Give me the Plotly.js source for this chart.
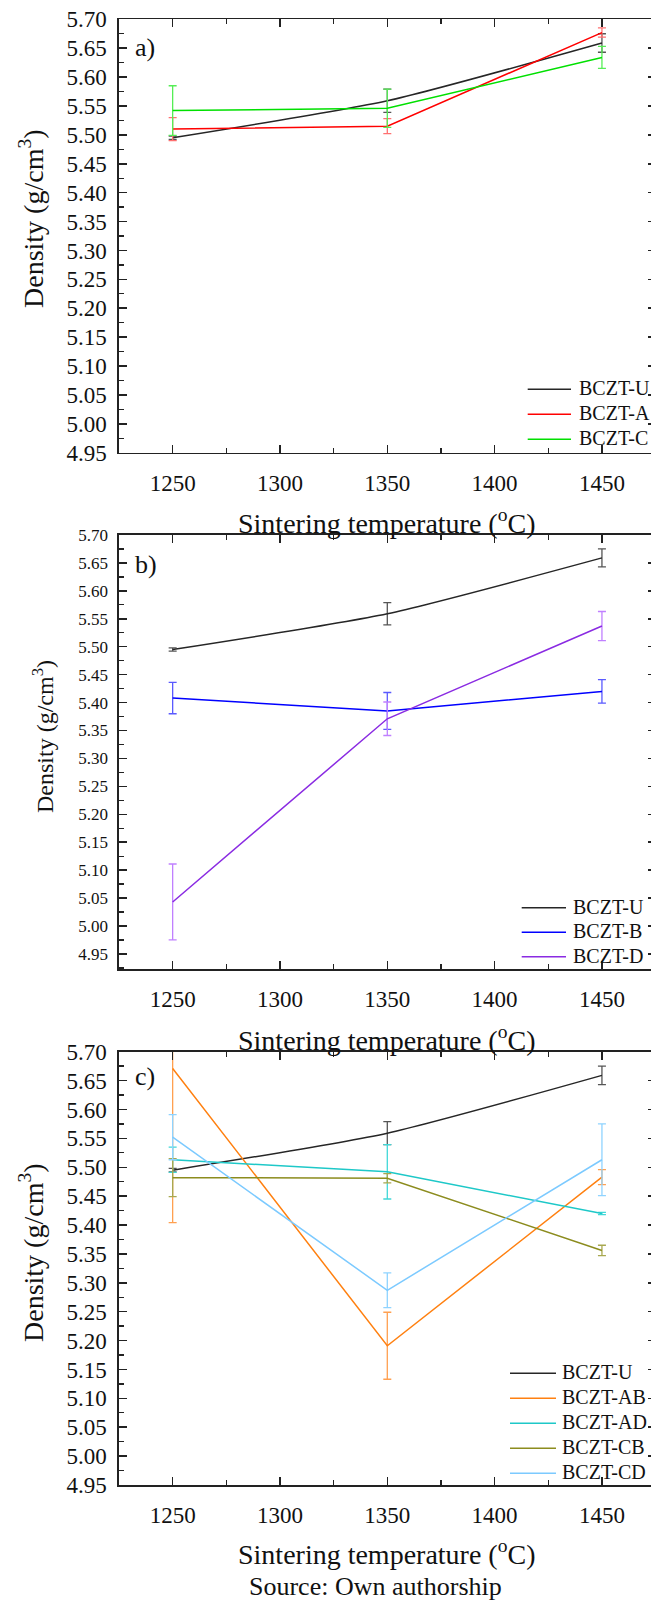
<!DOCTYPE html>
<html>
<head>
<meta charset="utf-8">
<script src="https://cdn.plot.ly/plotly-3.0.1.min.js"></script>
<style>
html, body { margin: 0; padding: 0; overflow: hidden; background: #fff; }
#chart { width: 660px; height: 1603px; }
</style>
</head>
<body>
<div id="chart"></div>
<script>
// ---- data ----
const temps = [1250, 1350, 1450];
const xTicks = [1250, 1300, 1350, 1400, 1450];

const U = [5.495, 5.559, 5.659];
const U_err = [0.003, 0.020, 0.016];
const A = [5.510, 5.515, 5.677];
const A_err = [0.020, 0.013, 0.008];
const C = [5.542, 5.546, 5.634];
const C_err = [0.043, 0.033, 0.019];
const B = [5.408, 5.385, 5.420];
const B_err = [0.028, 0.033, 0.021];
const D = [5.043, 5.371, 5.537];
const D_err = [0.068, 0.030, 0.026];
const AB = [5.671, 5.191, 5.483];
const AB_err = [0.267, 0.058, 0.013];
const AD = [5.513, 5.492, 5.420];
const AD_err = [0.022, 0.047, 0.002];
const CB = [5.482, 5.481, 5.356];
const CB_err = [0.033, 0.008, 0.009];
const CD = [5.552, 5.287, 5.513];
const CD_err = [0.039, 0.030, 0.062];

const panelLabels = ['a)', 'b)', 'c)'];
const xTitle = 'Sintering temperature (<sup>o</sup>C)';
const yTitle = 'Density (g/cm<sup>3</sup>)';
const sourceText = 'Source: Own authorship';

// ---- layout helpers ----
const W = 660, H = 1603;
const FONT = '"Liberation Serif", "Times New Roman", serif';
const px = v => v / W;
const py = v => 1 - v / H;
const dom = (top, bottom) => [1 - bottom / H, 1 - top / H];

function tr(name, y, err, color, errColor, xa, ya, smooth) {
  return {
    x: temps, y: y, name: name, type: 'scatter', mode: 'lines',
    xaxis: xa, yaxis: ya, showlegend: false,
    line: {color: color, width: 1.5, shape: smooth ? 'spline' : 'linear', smoothing: 0.6},
    error_y: {type: 'data', array: err, visible: true, color: errColor, thickness: 1.3, width: 4},
    hoverinfo: 'skip'
  };
}

const data = [
  tr('BCZT-U', U, U_err, '#262626', '#555555', 'x', 'y', true),
  tr('BCZT-A', A, A_err, '#ff0000', '#ff7070', 'x', 'y'),
  tr('BCZT-C', C, C_err, '#00e000', '#55ee55', 'x', 'y'),

  tr('BCZT-U', U, U_err, '#262626', '#555555', 'x2', 'y2', true),
  tr('BCZT-B', B, B_err, '#0000ff', '#5a5aff', 'x2', 'y2'),
  tr('BCZT-D', D, D_err, '#8a2be2', '#c080ff', 'x2', 'y2'),

  tr('BCZT-U', U, U_err, '#262626', '#555555', 'x3', 'y3', true),
  tr('BCZT-AB', AB, AB_err, '#ff8010', '#ffa050', 'x3', 'y3'),
  tr('BCZT-AD', AD, AD_err, '#1ec8c8', '#40d8d8', 'x3', 'y3'),
  tr('BCZT-CB', CB, CB_err, '#8c8c1e', '#a8a850', 'x3', 'y3'),
  tr('BCZT-CD', CD, CD_err, '#7ccaff', '#8fd3ff', 'x3', 'y3')
];

const xDom = [px(119), px(655.6)];
function xax(anchor, tickSize) {
  return {
    domain: xDom, anchor: anchor, range: [1225, 1475],
    tickvals: xTicks, ticks: 'inside', ticklen: 8, tickwidth: 1.5, tickcolor: '#222',
    minor: {dtick: 25, tick0: 1225, ticks: 'inside', ticklen: 5, tickwidth: 1.3, tickcolor: '#222'},
    showline: true, linecolor: '#222', linewidth: 1.6, mirror: 'ticks',
    showgrid: false, zeroline: false,
    tickfont: {family: FONT, size: tickSize, color: '#111'},
    ticklabelstandoff: 9
  };
}
function yax(anchor, domain, range, tickSize) {
  return {
    domain: domain, anchor: anchor, range: range,
    tick0: 4.95, dtick: 0.05, tickformat: '.2f',
    ticks: 'inside', ticklen: 8, tickwidth: 1.5, tickcolor: '#222',
    minor: {dtick: 0.025, tick0: 4.95, ticks: 'inside', ticklen: 5, tickwidth: 1.3, tickcolor: '#222'},
    showline: true, linecolor: '#222', linewidth: 1.6, mirror: 'ticks',
    showgrid: false, zeroline: false,
    tickfont: {family: FONT, size: tickSize, color: '#111'},
    ticklabelstandoff: 6
  };
}

function ann(text, x, y, size, angle, xanchor) {
  return {
    text: text, xref: 'paper', yref: 'paper', x: px(x), y: py(y),
    xanchor: xanchor || 'center', yanchor: 'middle', showarrow: false,
    textangle: angle || 0,
    font: {family: FONT, size: size, color: '#111'}
  };
}

// ---- legends (one per panel), built from the traces ----
const shapes = [];
const legendAnns = [];
function addLegend(traces, lineX0, lineX1, textX, rowY0, rowStep, fontSize) {
  traces.forEach((t, i) => {
    const yy = rowY0 + i * rowStep;
    shapes.push({
      type: 'line', xref: 'paper', yref: 'paper',
      x0: px(lineX0), x1: px(lineX1), y0: py(yy), y1: py(yy),
      line: {color: t.line.color, width: 1.6}
    });
    legendAnns.push(ann(t.name, textX, yy - 1, fontSize, 0, 'left'));
  });
}
addLegend(data.slice(0, 3), 527.7, 571, 576.5, 389.3, 25, 20);
addLegend(data.slice(3, 6), 521.7, 566, 570.5, 907.7, 24.5, 20);
addLegend(data.slice(6, 11), 510, 556, 559.5, 1373.3, 25, 20);

const layout = {
  width: W, height: H,
  margin: {l: 0, r: 0, t: 0, b: 0},
  paper_bgcolor: '#fff', plot_bgcolor: '#fff',
  showlegend: false,
  xaxis: xax('y', 23),
  yaxis: yax('x', dom(19.3, 452.7), [4.95, 5.70], 23),
  xaxis2: xax('y2', 23),
  yaxis2: yax('x2', dom(535, 969), [4.923, 5.70], 17),
  xaxis3: xax('y3', 23),
  yaxis3: yax('x3', dom(1051.7, 1485), [4.95, 5.70], 23),
  shapes: shapes,
  annotations: [
    ann(panelLabels[0], 145, 47, 26),
    ann(panelLabels[1], 146, 564, 26),
    ann(panelLabels[2], 145, 1076, 26),
    ann(xTitle, 387, 521, 28),
    ann(xTitle, 387, 1038, 28),
    ann(xTitle, 387, 1552, 28),
    ann(sourceText, 375, 1586, 26),
    ann(yTitle, 31, 219, 28, -90),
    ann(yTitle, 43, 737, 24, -90),
    ann(yTitle, 31, 1253, 28, -90)
  ].concat(legendAnns)
};

Plotly.newPlot('chart', data, layout, {displayModeBar: false, staticPlot: true});
</script>
</body>
</html>
